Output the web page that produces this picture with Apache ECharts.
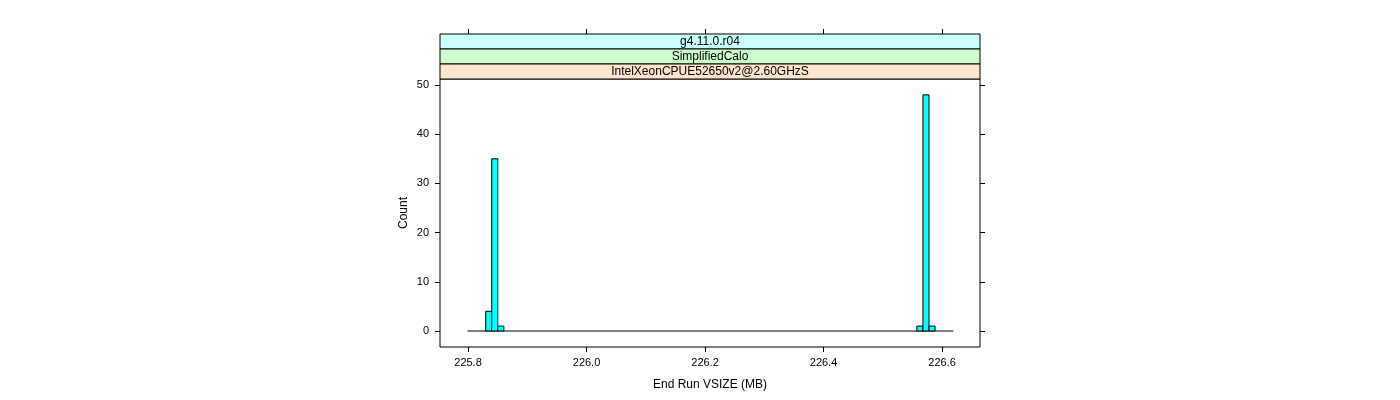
<!DOCTYPE html>
<html><head><meta charset="utf-8">
<script src="https://cdn.jsdelivr.net/npm/echarts@6/dist/echarts.min.js"></script>
<style>html,body{margin:0;padding:0;background:#fff}#c{width:1400px;height:400px}</style>
</head><body><div id="c"></div>
<script>
// Histogram bins (MB) and counts
const binLeft  = [225.8298, 225.8400, 225.8503, 226.5575, 226.5678, 226.5780];
const binRight = [225.8400, 225.8503, 225.8605, 226.5678, 226.5780, 226.5883];
const counts   = [4, 35, 1, 1, 48, 1];
const histRange = [225.799, 226.619];   // full extent of the (mostly empty) bins
const xTicks = [225.8, 226.0, 226.2, 226.4, 226.6];
const yTicks = [0, 10, 20, 30, 40, 50];
const strips = ['g4.11.0.r04', 'SimplifiedCalo', 'IntelXeonCPUE52650v2@2.60GHzS'];
const stripColors = ['#ccffff', '#ccffcc', '#ffe5cc'];
const xTitle = 'End Run VSIZE (MB)';
const yTitle = 'Count';

const FONT = 'Liberation Sans, Arial, sans-serif';
const G = {left: 440, top: 79, width: 540, height: 268};
const stripH = 15;

const chart = echarts.init(document.getElementById('c'));
const barData = counts.map((c, i) => [binLeft[i], binRight[i], c]);

const graphics = strips.map((s, i) => ({
  type: 'group',
  children: [
    {type: 'rect', shape: {x: G.left, y: G.top - stripH * (strips.length - i), width: G.width, height: stripH},
     style: {fill: stripColors[i], stroke: '#000', lineWidth: 1}},
    {type: 'text', x: G.left + G.width / 2, y: G.top - stripH * (strips.length - i) + stripH / 2 + 0.5,
     style: {text: s, fontFamily: FONT, fontSize: 12, fill: '#000', align: 'center', verticalAlign: 'middle'}}
  ]
}));

const xFmt = v => v.toFixed(1);
const commonX = {type: 'value', min: 225.7527, max: 226.6641, splitLine: {show: false}};
const commonY = {type: 'value', min: -3.25, max: 51.22, splitLine: {show: false}};
const tickStyle = {color: '#000', width: 1};

chart.setOption({
  animation: false,
  grid: {left: G.left, top: G.top, width: G.width, height: G.height, show: true, borderColor: '#000', borderWidth: 1, backgroundColor: 'transparent'},
  xAxis: [
    Object.assign({}, commonX, {
      position: 'bottom', axisLine: {show: false, onZero: false},
      axisTick: {show: true, inside: false, length: 5, lineStyle: tickStyle, customValues: xTicks},
      axisLabel: {show: true, color: '#000', fontFamily: FONT, fontSize: 11, margin: 10, formatter: xFmt, customValues: xTicks},
      name: xTitle, nameLocation: 'middle', nameGap: 32,
      nameTextStyle: {color: '#000', fontFamily: FONT, fontSize: 12}
    }),
    Object.assign({}, commonX, {
      position: 'top', offset: stripH * strips.length, axisLine: {show: false, onZero: false},
      axisTick: {show: true, inside: false, length: 5, lineStyle: tickStyle, customValues: xTicks},
      axisLabel: {show: false, customValues: xTicks}
    })
  ],
  yAxis: [
    Object.assign({}, commonY, {
      position: 'left', axisLine: {show: false, onZero: false},
      axisTick: {show: true, inside: false, length: 5, lineStyle: tickStyle, customValues: yTicks},
      axisLabel: {show: true, color: '#000', fontFamily: FONT, fontSize: 11, margin: 11, customValues: yTicks},
      name: yTitle, nameLocation: 'middle', nameGap: 30, nameRotate: 90,
      nameTextStyle: {color: '#000', fontFamily: FONT, fontSize: 12}
    }),
    Object.assign({}, commonY, {
      position: 'right', axisLine: {show: false, onZero: false},
      axisTick: {show: true, inside: false, length: 5, lineStyle: tickStyle, customValues: yTicks},
      axisLabel: {show: false, customValues: yTicks}
    })
  ],
  series: [
    {
      type: 'line', xAxisIndex: 0, yAxisIndex: 0, symbol: 'none', silent: true,
      data: [[histRange[0], 0], [histRange[1], 0]],
      lineStyle: {color: '#000', width: 1}, z: 2
    },
    {
      type: 'custom', xAxisIndex: 0, yAxisIndex: 0, z: 3,
      data: barData,
      renderItem: function (params, api) {
        const p0 = api.coord([api.value(0), api.value(2)]);
        const p1 = api.coord([api.value(1), 0]);
        return {
          type: 'rect',
          shape: {x: p0[0], y: p0[1], width: p1[0] - p0[0], height: p1[1] - p0[1]},
          style: {fill: '#00ffff', stroke: '#000', lineWidth: 1}
        };
      }
    }
  ],
  graphic: graphics
});
</script></body></html>
